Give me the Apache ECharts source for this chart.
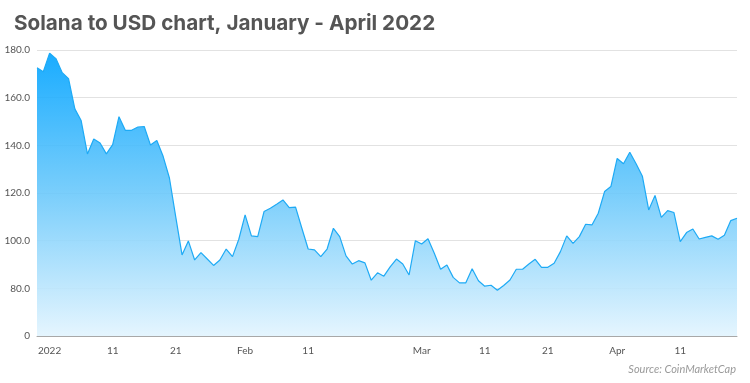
<!DOCTYPE html>
<html>
<head>
<meta charset="utf-8">
<script src="https://cdn.jsdelivr.net/npm/echarts@6/dist/echarts.min.js"></script>
<style>
html,body{margin:0;padding:0;background:#fff;}
#chart{width:750px;height:383px;}
</style>
</head>
<body>
<div id="chart"></div>
<script>
// Daily SOL/USD close, 30 Dec 2021 – 20 Apr 2022
var startDate = '2021-12-30';
var prices = [
  172.6, 170.9, 178.7, 176.4, 170.5, 168.0, 155.3, 150.4, 136.4, 142.7,
  141.0, 136.4, 140.3, 152.0, 146.3, 146.3, 147.7, 147.9, 140.1, 142.0,
  135.4, 126.3, 110.0, 94.0, 99.9, 91.9, 95.0, 92.3, 89.6, 91.9,
  96.5, 93.3, 100.6, 110.8, 102.0, 101.7, 112.2, 113.6, 115.3, 117.1,
  113.9, 114.1, 105.2, 96.5, 96.1, 93.3, 96.5, 105.2, 101.7, 93.6,
  90.2, 91.6, 90.7, 83.4, 86.5, 85.1, 89.0, 92.3, 90.2, 85.6,
  100.0, 98.6, 100.8, 94.7, 88.0, 89.8, 84.6, 82.3, 82.3, 88.2,
  83.2, 80.9, 81.3, 79.2, 81.2, 83.5, 88.0, 88.0, 90.2, 92.2,
  88.8, 88.8, 90.5, 95.4, 102.0, 98.9, 101.7, 106.9, 106.6, 111.5,
  120.6, 122.7, 134.5, 132.3, 137.1, 132.3, 127.0, 112.9, 119.0, 109.8,
  112.6, 111.8, 99.6, 103.4, 104.9, 100.7, 101.4, 102.0, 100.6, 102.3,
  108.4, 109.4
];
var tickDates = ['2022-01-01','2022-01-11','2022-01-21','2022-02-01','2022-02-11',
                 '2022-03-01','2022-03-11','2022-03-21','2022-04-01','2022-04-11'];
var tickLabels = ['2022','11','21','Feb','11','Mar','11','21','Apr','11'];
var yTicks = [60, 80, 100, 120, 140, 160, 180];
var yTickLabels = ['0', '80.0', '100.0', '120.0', '140.0', '160.0', '180.0'];

// build date categories
var dates = [];
(function(){
  var d = new Date(startDate + 'T00:00:00Z');
  for (var i = 0; i < prices.length; i++) {
    dates.push(d.toISOString().slice(0,10));
    d.setUTCDate(d.getUTCDate() + 1);
  }
})();

var chart = echarts.init(document.getElementById('chart'), null, {renderer:'canvas'});
var labelFont = 'Lato, "Noto Sans", sans-serif';
chart.setOption({
  animation: false,
  backgroundColor: '#ffffff',
  title: [{
    text: 'Solana to USD chart, January - April 2022',
    left: 9, top: 8,
    textStyle: {fontFamily: 'Inter, "Noto Sans", sans-serif', fontWeight: 700, fontSize: 20.7, color: '#555555'}
  }, {
    text: 'Source: CoinMarketCap',
    right: 9, top: 359,
    textStyle: {fontFamily: labelFont, fontStyle: 'italic', fontWeight: 'normal', fontSize: 11, color: '#9a9a9a'}
  }],
  grid: {left: 37, right: 13, top: 50, bottom: 47, containLabel: false},
  xAxis: {
    type: 'category',
    data: dates,
    boundaryGap: false,
    axisLine: {show: true, lineStyle: {color: '#a8a8a8', width: 1}},
    axisTick: {show: false},
    axisLabel: {
      interval: function(idx, val){ return tickDates.indexOf(val) >= 0; },
      formatter: function(val){ var k = tickDates.indexOf(val); return k >= 0 ? tickLabels[k] : ''; },
      color: '#555555', fontSize: 10, fontFamily: labelFont, margin: 10, hideOverlap: false
    },
    splitLine: {show: false}
  },
  yAxis: {
    type: 'value',
    min: 60, max: 180, interval: 20,
    axisLine: {show: false},
    axisTick: {show: false},
    axisLabel: {
      formatter: function(v){ var k = yTicks.indexOf(v); return k >= 0 ? yTickLabels[k] : ''; },
      color: '#555555', fontSize: 10, fontFamily: labelFont, margin: 7
    },
    splitLine: {show: true, lineStyle: {color: '#e2e2e2', width: 1}}
  },
  series: [{
    type: 'line',
    data: prices,
    symbol: 'none',
    lineStyle: {color: '#1eaaf5', width: 1.2},
    areaStyle: {
      opacity: 0.9,
      color: new echarts.graphic.LinearGradient(0, 0, 0, 1, [
        {offset: 0, color: '#00a3ff'},
        {offset: 0.5, color: '#6cc9fb'},
        {offset: 1, color: '#e2f4fe'}
      ])
    }
  }]
});
</script>
</body>
</html>
